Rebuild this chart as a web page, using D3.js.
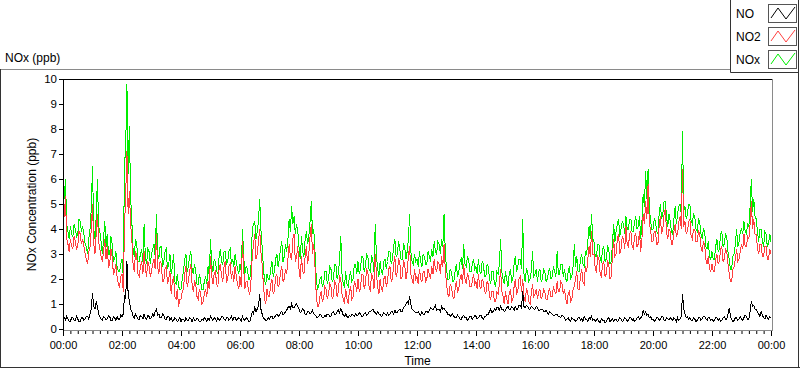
<!DOCTYPE html>
<html><head><meta charset="utf-8">
<script src="https://cdn.jsdelivr.net/npm/d3@7"></script>
<style>
body{margin:0;background:#fff}
svg{display:block}
text{font-family:"Liberation Sans",Arial,sans-serif;fill:#000}
</style></head>
<body><svg id="c" width="800" height="369"></svg>
<script>
// ---- data (2.5-minute samples, 00:00 .. 24:00) ----
const seriesNames = ["NO", "NO2", "NOx"];
const seriesColors = ["#000000", "#ff4040", "#00ee00"];
const yTicks = [0,1,2,3,4,5,6,7,8,9,10];
const xTickLabels = ["00:00","02:00","04:00","06:00","08:00","10:00","12:00","14:00","16:00","18:00","20:00","22:00","00:00"];

const no2 = [
4.8,4.5,5.3,3.6,3.4,3.1,3.6,3.3,3.2,3.7,3.5,3.2,3.3,3.9,3.8,3.4,3.6,3.3,3.0,2.8,2.6,3.1,3.3,4.0,
5.0,3.4,3.0,3.8,4.6,3.5,3.2,2.9,2.7,3.1,3.6,2.8,3.3,2.5,2.6,3.2,2.9,2.2,2.3,2.6,2.1,1.8,1.7,2.1,
2.2,1.5,4.0,5.4,7.1,4.6,5.5,4.2,3.6,2.6,2.3,3.1,2.9,2.2,2.1,2.5,2.7,2.2,3.1,2.4,2.1,2.7,2.5,2.1,
2.3,2.6,2.8,2.4,3.8,2.5,2.2,2.7,2.6,1.9,1.9,2.4,2.5,1.8,2.0,2.3,1.4,1.9,2.1,1.3,1.2,1.6,0.9,1.2,
1.2,1.5,1.6,2.2,2.5,1.7,1.9,2.3,2.6,1.8,1.5,1.9,1.8,1.3,1.2,1.6,1.4,1.0,1.1,1.4,1.6,1.3,1.9,1.6,
2.9,2.1,1.8,2.2,2.3,1.8,1.7,2.4,2.6,2.1,1.9,2.5,2.7,1.9,2.0,2.5,2.6,2.0,2.3,1.9,2.5,2.1,1.8,1.6,
2.1,1.7,3.5,2.4,1.6,1.9,1.9,1.5,1.4,2.0,2.9,3.4,3.8,2.8,3.0,3.5,4.0,3.1,2.6,1.8,1.2,1.0,1.6,1.3,
1.3,1.8,2.0,1.4,1.5,2.1,2.2,1.7,1.8,2.3,2.5,1.9,2.0,2.4,2.2,2.8,3.4,2.9,2.8,3.6,3.8,2.7,2.9,3.3,
2.4,2.0,2.9,2.3,2.2,2.9,3.3,2.6,3.0,3.7,4.2,3.0,3.4,2.5,1.4,0.9,0.9,1.3,1.5,1.1,1.2,1.7,1.6,1.2,
1.4,1.8,1.7,1.2,1.3,1.9,1.8,1.3,1.5,2.1,2.0,1.4,1.2,1.0,1.6,1.2,1.0,1.5,1.7,1.2,1.3,1.9,1.8,1.5,
2.0,1.5,1.6,2.2,2.2,1.6,1.8,2.4,2.3,1.7,1.5,2.2,2.1,1.6,3.0,2.2,1.7,1.4,2.0,1.6,1.5,2.0,2.1,1.7,
1.9,2.4,2.5,1.9,2.0,2.6,2.9,2.1,2.3,2.8,2.7,2.0,2.1,2.7,2.6,2.0,2.3,2.9,3.3,2.2,2.0,1.8,2.4,2.0,
2.1,1.8,2.4,2.0,1.9,2.3,2.3,1.9,2.0,2.4,2.2,2.0,2.5,2.2,2.8,2.4,2.3,2.7,2.6,2.2,2.9,2.5,3.4,2.4,
1.8,1.4,1.3,1.8,1.7,1.3,1.2,1.6,1.9,1.5,1.6,2.0,2.2,1.8,2.6,2.0,1.8,2.2,2.1,1.7,1.7,1.9,2.2,1.8,
1.9,1.6,2.2,1.7,1.6,2.0,1.9,1.5,1.4,1.9,1.8,1.3,1.2,1.5,1.5,1.1,1.1,1.5,1.4,1.8,2.4,1.5,1.3,1.0,
1.5,1.2,1.0,1.4,1.6,1.1,1.2,1.7,2.0,1.4,1.5,2.0,2.1,1.5,2.0,1.3,1.1,1.6,1.5,1.1,1.0,1.4,1.8,1.3,
1.4,1.6,1.2,1.5,1.6,1.2,1.3,1.6,1.5,1.2,1.2,1.5,1.6,1.3,1.3,1.7,1.5,1.4,1.9,1.5,1.5,1.9,1.8,1.4,
1.6,1.2,1.0,1.4,1.5,1.1,1.2,1.6,1.7,2.0,2.3,1.6,1.6,2.1,2.4,1.9,1.8,2.5,2.3,2.8,3.3,2.9,3.9,3.0,
3.0,2.4,2.3,2.9,2.8,2.2,2.1,2.6,2.7,2.1,2.2,2.7,2.6,2.0,2.1,2.9,3.6,2.9,3.0,3.6,3.8,3.0,3.2,3.7,
3.6,3.2,4.1,3.4,3.3,3.8,3.9,3.3,3.2,3.7,3.8,3.3,3.4,3.9,3.1,3.6,4.6,4.2,5.1,4.4,5.8,4.2,4.0,3.5,
3.5,3.9,3.9,3.4,3.4,4.1,4.5,3.8,4.0,4.6,4.8,3.9,3.6,4.0,3.9,3.4,3.4,3.9,4.2,3.7,3.8,4.3,4.5,4.0,
6.4,4.1,4.3,3.8,3.9,4.3,4.4,3.7,3.6,4.0,4.0,3.5,3.5,3.9,3.8,3.3,3.1,3.5,3.4,2.8,2.6,2.9,2.4,2.3,
2.6,2.3,2.3,2.8,3.0,2.6,2.7,3.2,3.3,2.7,2.8,3.2,3.1,2.6,2.2,1.9,1.9,2.4,2.5,2.8,3.2,2.7,2.8,3.1,
3.4,3.2,3.8,3.3,3.3,3.7,3.6,4.2,5.1,4.0,4.4,3.8,3.8,3.2,3.0,3.4,3.4,2.9,2.9,3.3,3.3,2.8,2.8,3.2,
3.0];

const nox = [
5.8,5.2,6.0,4.2,3.9,3.6,4.1,3.8,3.7,4.2,4.0,3.7,3.8,4.4,4.3,3.9,4.1,3.8,3.4,3.3,3.0,3.6,4.0,4.8,
6.5,4.0,3.6,4.5,6.0,4.1,3.9,3.5,3.0,3.6,4.3,3.3,3.8,3.0,3.0,3.7,3.4,2.7,2.8,3.1,2.5,2.3,2.3,2.6,
2.8,2.1,6.5,7.3,9.8,6.2,8.1,5.3,4.3,3.2,2.9,3.6,3.4,2.7,2.7,3.0,3.2,2.7,4.2,2.9,2.6,3.2,3.1,2.6,
3.0,3.2,3.4,2.9,4.6,3.0,2.8,3.3,3.3,2.5,2.7,3.1,3.2,2.4,2.6,3.0,2.2,2.5,3.0,1.9,1.8,2.2,1.7,1.6,
1.6,2.0,2.3,2.8,3.0,2.3,2.5,2.9,3.1,2.4,2.2,2.6,2.3,1.8,1.8,2.2,1.9,1.6,1.6,1.9,2.1,1.8,2.5,2.1,
3.6,2.6,2.3,2.8,2.7,2.3,2.2,2.9,3.2,2.7,2.6,3.1,3.1,2.6,2.7,3.1,3.2,2.6,2.8,2.5,3.0,2.7,2.4,2.2,
2.6,2.3,4.0,2.9,2.2,2.5,2.4,2.0,2.0,2.6,4.0,4.2,4.3,3.6,3.9,4.3,5.2,4.0,3.3,2.5,1.9,1.8,2.2,2.0,
2.0,2.4,2.7,2.1,2.3,2.8,3.0,2.5,2.8,3.2,3.5,2.7,2.9,3.4,3.1,3.6,4.4,3.9,4.9,4.2,4.5,3.8,4.2,3.9,
3.3,2.8,3.7,3.1,2.9,3.6,3.9,3.4,3.7,4.3,5.1,3.8,4.0,3.1,2.1,1.6,1.7,2.0,2.1,1.7,1.8,2.3,2.3,1.8,
2.0,2.5,2.4,1.9,2.0,2.6,2.6,2.0,2.2,2.8,3.7,2.2,1.8,1.7,2.3,1.8,1.7,2.1,2.3,1.9,2.0,2.6,2.6,2.2,
2.7,2.2,2.4,2.9,2.9,2.3,2.5,3.0,2.9,2.4,2.3,2.9,2.8,2.3,4.2,2.9,2.4,2.1,2.7,2.3,2.2,2.7,2.8,2.4,
2.7,3.1,3.1,2.6,2.8,3.3,3.6,2.9,3.0,3.5,3.2,2.8,2.8,3.4,3.3,2.8,3.1,3.6,4.6,3.1,2.7,2.6,3.0,2.7,
2.8,2.5,3.1,2.7,2.5,3.0,2.9,2.6,2.6,3.1,2.9,2.7,3.2,2.9,3.5,3.1,3.0,3.5,3.4,3.0,3.6,3.3,4.6,3.1,
2.4,2.0,2.0,2.4,2.3,1.9,1.9,2.3,2.6,2.1,2.3,2.7,2.8,2.4,3.4,2.6,2.5,2.9,2.8,2.3,2.3,2.6,2.8,2.4,
2.5,2.2,2.8,2.3,2.2,2.7,2.6,2.1,2.1,2.6,2.5,2.0,1.8,2.3,2.3,1.8,1.7,2.3,2.2,2.6,3.6,2.3,2.0,1.8,
2.3,2.0,1.7,2.2,2.4,1.9,2.0,2.6,2.9,2.3,2.5,2.8,2.8,2.4,4.4,2.2,1.9,2.4,2.3,1.9,2.0,2.3,3.1,2.1,
2.2,2.4,1.9,2.3,2.4,1.9,2.0,2.4,2.3,1.9,2.0,2.3,2.4,2.0,2.1,2.5,2.3,2.1,3.1,2.2,2.2,2.6,2.6,2.1,
2.4,2.0,1.9,2.3,2.5,2.0,2.1,2.5,3.4,2.5,2.9,2.3,2.3,2.8,3.0,2.6,2.5,3.1,3.0,3.5,4.1,3.6,4.6,3.6,
3.5,2.9,2.9,3.4,3.4,2.8,2.7,3.2,3.3,2.7,2.8,3.3,3.2,2.6,2.7,3.4,4.2,3.5,3.9,4.2,4.4,3.7,4.0,4.3,
4.2,3.8,4.5,4.0,4.0,4.4,4.4,3.9,3.9,4.3,4.5,4.0,4.1,4.5,3.6,4.3,5.4,4.9,6.3,5.2,6.4,4.9,4.3,4.0,
4.0,4.4,4.3,3.9,3.8,4.6,5.0,4.4,4.6,5.1,5.1,4.5,4.1,4.6,4.3,3.9,3.8,4.4,4.9,4.2,4.6,4.9,5.0,4.6,
7.9,4.7,4.9,4.4,4.6,5.0,5.0,4.3,4.2,4.6,4.5,4.0,3.9,4.4,4.3,3.8,3.6,4.0,3.9,3.3,3.2,3.5,2.9,2.8,
3.1,2.8,2.8,3.3,3.6,3.1,3.2,3.8,3.9,3.3,3.4,3.8,3.7,3.1,2.8,2.4,2.4,2.9,3.0,3.4,4.0,3.3,3.5,3.9,
4.0,3.8,4.3,3.9,3.8,4.2,4.1,4.9,6.0,4.7,5.2,4.5,4.4,3.9,3.5,4.0,4.0,3.5,3.3,3.9,3.8,3.3,3.4,3.8,
3.5];

const no = [
0.6,0.45,0.35,0.5,0.4,0.3,0.3,0.45,0.45,0.35,0.35,0.5,0.4,0.3,0.3,0.45,0.45,0.35,0.4,0.5,0.5,0.4,0.6,0.8,
1.43,0.9,0.8,1.1,0.9,0.6,0.5,0.4,0.35,0.5,0.45,0.35,0.4,0.55,0.5,0.35,0.35,0.5,0.45,0.35,0.5,0.4,0.4,0.55,
0.5,0.6,1.3,1.2,2.7,1.4,1.1,0.8,0.7,0.5,0.45,0.6,0.5,0.4,0.4,0.55,0.5,0.4,0.6,0.45,0.4,0.55,0.5,0.4,
0.45,0.6,0.5,0.7,0.8,0.55,0.6,0.45,0.45,0.6,0.55,0.4,0.4,0.5,0.5,0.35,0.45,0.3,0.35,0.45,0.4,0.3,0.35,0.45,
0.3,0.4,0.4,0.3,0.45,0.35,0.35,0.45,0.4,0.3,0.45,0.35,0.35,0.45,0.4,0.3,0.3,0.4,0.35,0.45,0.4,0.3,0.45,0.35,
0.5,0.4,0.35,0.45,0.4,0.3,0.45,0.35,0.4,0.5,0.5,0.4,0.35,0.45,0.45,0.35,0.4,0.5,0.35,0.45,0.45,0.35,0.4,0.45,
0.4,0.3,0.5,0.4,0.35,0.45,0.4,0.3,0.3,0.5,0.7,0.6,0.9,0.7,0.8,0.9,1.4,0.8,0.6,0.45,0.4,0.35,0.35,0.45,
0.4,0.5,0.5,0.4,0.45,0.55,0.6,0.5,0.55,0.65,0.7,0.55,0.6,0.7,0.75,0.85,0.9,0.8,1.0,0.85,0.85,0.95,1.0,0.9,
0.8,0.65,0.7,0.8,0.75,0.6,0.6,0.7,0.7,0.6,0.65,0.75,0.6,0.55,0.5,0.45,0.5,0.6,0.55,0.45,0.45,0.55,0.5,0.6,
0.6,0.5,0.5,0.65,0.7,0.6,0.6,0.7,0.75,0.65,0.8,0.7,0.55,0.5,0.6,0.5,0.45,0.55,0.5,0.6,0.55,0.5,0.6,0.55,
0.55,0.65,0.6,0.5,0.5,0.6,0.65,0.55,0.6,0.7,0.7,0.75,0.8,0.7,0.65,0.6,0.7,0.6,0.6,0.5,0.55,0.65,0.6,0.55,
0.65,0.55,0.6,0.7,0.7,0.6,0.75,0.65,0.65,0.75,0.8,0.7,0.7,0.85,0.9,1.0,1.1,1.0,1.3,1.0,0.8,0.75,0.7,0.65,
0.65,0.7,0.6,0.55,0.7,0.6,0.6,0.7,0.7,0.65,0.75,0.85,0.8,0.75,0.85,0.95,0.75,0.8,0.8,0.7,0.9,0.8,0.85,0.75,
0.7,0.6,0.6,0.5,0.55,0.6,0.5,0.45,0.45,0.55,0.5,0.4,0.4,0.5,0.55,0.45,0.45,0.35,0.4,0.5,0.5,0.4,0.45,0.55,
0.5,0.4,0.45,0.55,0.55,0.45,0.4,0.5,0.5,0.6,0.6,0.7,0.8,0.65,0.7,0.8,0.75,0.85,0.85,0.75,0.9,0.8,0.8,0.7,
0.75,0.85,0.9,0.8,0.8,0.9,0.85,0.75,0.9,0.8,0.8,0.95,0.95,0.85,1.5,0.9,0.85,0.95,0.9,0.8,0.8,0.9,0.85,0.8,
0.8,0.9,0.85,0.75,0.75,0.8,0.8,0.7,0.7,0.75,0.65,0.6,0.7,0.65,0.6,0.55,0.55,0.6,0.6,0.5,0.5,0.45,0.55,0.5,
0.45,0.35,0.4,0.45,0.35,0.3,0.45,0.4,0.4,0.3,0.35,0.45,0.45,0.35,0.4,0.3,0.5,0.4,0.4,0.3,0.45,0.4,0.5,0.35,
0.4,0.3,0.35,0.4,0.3,0.25,0.4,0.35,0.35,0.25,0.3,0.4,0.45,0.3,0.35,0.4,0.3,0.4,0.4,0.3,0.35,0.45,0.4,0.3,
0.35,0.45,0.4,0.3,0.35,0.45,0.45,0.35,0.4,0.3,0.35,0.45,0.5,0.4,0.45,0.5,0.75,0.6,0.7,0.55,0.6,0.45,0.5,0.4,
0.4,0.3,0.35,0.45,0.45,0.35,0.4,0.5,0.5,0.35,0.35,0.45,0.4,0.35,0.45,0.4,0.35,0.45,0.4,0.3,0.45,0.35,0.4,0.5,
1.4,0.8,0.6,0.45,0.5,0.4,0.45,0.35,0.35,0.45,0.4,0.3,0.35,0.45,0.45,0.35,0.4,0.5,0.5,0.4,0.35,0.45,0.45,0.35,
0.4,0.3,0.35,0.45,0.45,0.35,0.4,0.3,0.35,0.45,0.5,0.4,0.4,0.6,0.85,0.5,0.4,0.3,0.35,0.45,0.45,0.35,0.4,0.5,
0.4,0.35,0.45,0.55,0.5,0.4,0.4,0.7,1.1,0.9,0.95,0.8,0.8,0.65,0.6,0.5,0.7,0.55,0.45,0.4,0.55,0.45,0.4,0.5,
0.45];

// ---- drawing ----
const svg = d3.select("#c");
const t0 = new Date(2000,0,1,0,0), t1 = new Date(2000,0,2,0,0);
const timeOf = (arr, i) => new Date(t0.getTime() + i * (t1 - t0) / (arr.length - 1));

const x = d3.scaleTime().domain([t0, t1]).range([63, 771]);
const y = d3.scaleLinear().domain([0, 10]).range([329, 79]);

// outer panel
svg.append("line").attr("x1",0).attr("x2",731).attr("y1",69.5).attr("y2",69.5).attr("stroke","#8a8a8a");
svg.append("line").attr("x1",0.5).attr("x2",0.5).attr("y1",69).attr("y2",368).attr("stroke","#333");
svg.append("line").attr("x1",0).attr("x2",800).attr("y1",367.5).attr("y2",367.5).attr("stroke","#333");
svg.append("line").attr("x1",798.5).attr("x2",798.5).attr("y1",72).attr("y2",368).attr("stroke","#333");

svg.append("text").attr("x",5).attr("y",62).style("font-size","12px").text("NOx (ppb)");

// legend
const lg = svg.append("g");
lg.append("path").attr("d","M730.5,0V72.5H798.5V0").attr("fill","none").attr("stroke","#333");
[0,1,2].forEach((k, i) => {
  const yy = 4 + i*23;
  lg.append("text").attr("x",736).attr("y",yy+13.5).style("font-size","12px").text(seriesNames[k]);
  lg.append("rect").attr("x",768.5).attr("y",yy+0.5).attr("width",28).attr("height",18)
    .attr("fill","#fff").attr("stroke","#555");
  lg.append("path").attr("d",`M771,${yy+14}L778,${yy+4}L786,${yy+15}L795,${yy+3}`)
    .attr("fill","none").attr("stroke",seriesColors[k]).attr("stroke-width",1);
});

// clip
svg.append("clipPath").attr("id","clip").append("rect").attr("x",64).attr("y",80).attr("width",708).attr("height",250);

const mkLine = arr => d3.line().x((d,i)=>x(timeOf(arr,i))).y(d=>y(d))(arr);
const plot = svg.append("g").attr("clip-path","url(#clip)");
[[nox,2],[no2,1],[no,0]].forEach(([arr,k]) => {
  plot.append("path").attr("d",mkLine(arr)).attr("fill","none")
    .attr("stroke",seriesColors[k]).attr("stroke-width",1).attr("shape-rendering","crispEdges");
});

// plot frame
svg.append("line").attr("x1",63).attr("x2",773).attr("y1",79.5).attr("y2",79.5).attr("stroke","#000");
svg.append("line").attr("x1",772.5).attr("x2",772.5).attr("y1",79).attr("y2",331).attr("stroke","#8a8a8a");
svg.append("line").attr("x1",63).attr("x2",773).attr("y1",330.5).attr("y2",330.5).attr("stroke","#8a8a8a");

// y axis
const ya = svg.append("g").attr("transform","translate(63,0)")
  .call(d3.axisLeft(y).tickValues(yTicks).tickSize(4).tickPadding(2).tickFormat(d3.format("d")));
ya.select(".domain").attr("d","M0.5,79V331").attr("stroke","#000");
ya.selectAll("text").style("font-size","11.5px").attr("fill","#000").style("font-family",'"Liberation Sans",Arial,sans-serif');

// x axis minor
const minor = d3.timeMinute.every(15).range(t0, new Date(t1.getTime()+1));
const xm = svg.append("g").attr("transform","translate(0,331)")
  .call(d3.axisBottom(x).tickValues(minor).tickSize(3).tickFormat(""));
xm.select(".domain").remove();
// x axis major
const major = d3.timeHour.every(2).range(t0, new Date(t1.getTime()+1));
const xa = svg.append("g").attr("transform","translate(0,331)")
  .call(d3.axisBottom(x).tickValues(major).tickSize(5).tickPadding(5).tickFormat((d,i)=>xTickLabels[i]));
xa.select(".domain").remove();
xa.selectAll("text").style("font-size","11px").attr("fill","#000").style("font-family",'"Liberation Sans",Arial,sans-serif');

svg.append("text").attr("x",417.5).attr("y",365).attr("text-anchor","middle").style("font-size","12px").text("Time");
svg.append("text").attr("transform","translate(36,204.5) rotate(-90)").attr("text-anchor","middle").style("font-size","12px").text("NOx Concentration (ppb)");
</script></body></html>
